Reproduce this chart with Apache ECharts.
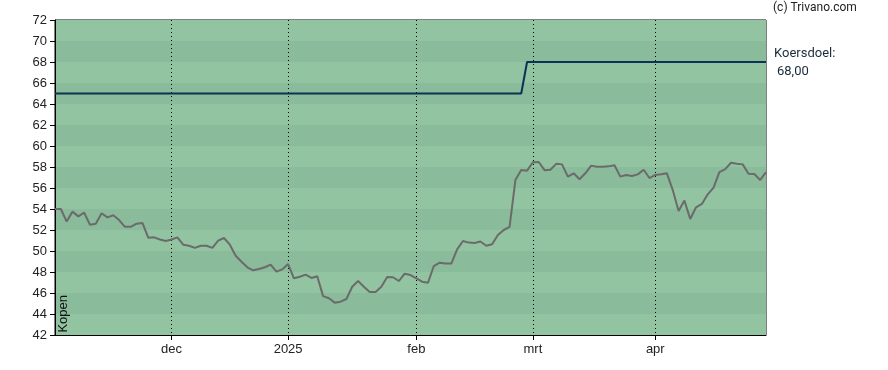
<!DOCTYPE html>
<html>
<head>
<meta charset="utf-8">
<script src="https://cdn.jsdelivr.net/npm/echarts@6/dist/echarts.min.js"></script>
<style>
html,body{margin:0;padding:0;background:#fff;}
#c{width:888px;height:370px;}
</style>
</head>
<body>
<div id="c"></div>
<script>
var dates = [
"2024-11-04","2024-11-05","2024-11-06","2024-11-07","2024-11-08",
"2024-11-11","2024-11-12","2024-11-13","2024-11-14","2024-11-15",
"2024-11-18","2024-11-19","2024-11-20","2024-11-21","2024-11-22",
"2024-11-25","2024-11-26","2024-11-27","2024-11-28","2024-11-29",
"2024-12-02","2024-12-03","2024-12-04","2024-12-05","2024-12-06",
"2024-12-09","2024-12-10","2024-12-11","2024-12-12","2024-12-13",
"2024-12-16","2024-12-17","2024-12-18","2024-12-19","2024-12-20",
"2024-12-23","2024-12-24","2024-12-27","2024-12-30","2024-12-31",
"2025-01-02","2025-01-03",
"2025-01-06","2025-01-07","2025-01-08","2025-01-09","2025-01-10",
"2025-01-13","2025-01-14","2025-01-15","2025-01-16","2025-01-17",
"2025-01-20","2025-01-21","2025-01-22","2025-01-23","2025-01-24",
"2025-01-27","2025-01-28","2025-01-29","2025-01-30","2025-01-31",
"2025-02-03","2025-02-04","2025-02-05","2025-02-06","2025-02-07",
"2025-02-10","2025-02-11","2025-02-12","2025-02-13","2025-02-14",
"2025-02-17","2025-02-18","2025-02-19","2025-02-20","2025-02-21",
"2025-02-24","2025-02-25","2025-02-26","2025-02-27","2025-02-28",
"2025-03-03","2025-03-04","2025-03-05","2025-03-06","2025-03-07",
"2025-03-10","2025-03-11","2025-03-12","2025-03-13","2025-03-14",
"2025-03-17","2025-03-18","2025-03-19","2025-03-20","2025-03-21",
"2025-03-24","2025-03-25","2025-03-26","2025-03-27","2025-03-28",
"2025-03-31",
"2025-04-01","2025-04-02","2025-04-03","2025-04-04",
"2025-04-07","2025-04-08","2025-04-09","2025-04-10","2025-04-11",
"2025-04-14","2025-04-15","2025-04-16","2025-04-17",
"2025-04-22","2025-04-23","2025-04-24","2025-04-25",
"2025-04-28","2025-04-29","2025-04-30"
];

var prices = [
54.0,54.0,52.8,53.75,53.3,53.65,52.5,52.6,53.6,53.2,
53.4,52.95,52.3,52.3,52.6,52.67,51.27,51.3,51.1,50.95,
51.1,51.3,50.6,50.5,50.3,50.5,50.5,50.3,50.98,51.24,
50.6,49.55,48.98,48.45,48.16,48.28,48.45,48.7,48.03,48.25,
48.76,47.4,47.55,47.75,47.43,47.6,45.7,45.5,45.08,45.17,
45.43,46.6,47.14,46.6,46.1,46.1,46.6,47.52,47.5,47.14,
47.84,47.71,47.4,47.08,46.98,48.57,48.89,48.8,48.8,50.16,
50.95,50.8,50.76,50.9,50.5,50.64,51.52,52.0,52.3,56.76,
57.71,57.65,58.45,58.48,57.7,57.74,58.3,58.25,57.08,57.4,
56.83,57.4,58.13,58.03,58.03,58.06,58.16,57.08,57.24,57.14,
57.3,57.74,56.95,57.24,57.3,57.4,55.8,53.8,54.8,53.05,
54.16,54.48,55.4,56.03,57.52,57.8,58.4,58.3,58.25,57.36,
57.33,56.76,57.52
];

var target = [
["2024-11-04",65],["2025-02-27",65],["2025-02-28",68],["2025-04-30",68]
];

var monthTicks = {"2024-12-02":"dec","2025-01-02":"2025","2025-02-03":"feb","2025-03-03":"mrt","2025-04-01":"apr"};
var yMin = 42, yMax = 72, yStep = 2;
var targetLabel = ["Koersdoel:", "68,00"];
var credit = "(c) Trivano.com";
var signal = "Kopen";

function isTick(idx, val){ return monthTicks.hasOwnProperty(val); }

var chart = echarts.init(document.getElementById('c'), null, {renderer:'canvas'});
chart.setOption({
  animation:false,
  backgroundColor:'#ffffff',
  grid:{left:55,right:122,top:20,bottom:35,show:true,borderColor:'#000',borderWidth:1,backgroundColor:'transparent'},
  xAxis:{
    type:'category',
    data:dates,
    boundaryGap:false,
    axisLine:{show:true,lineStyle:{color:'#000',width:1}},
    axisTick:{show:true,interval:isTick,length:5,lineStyle:{color:'#000'}},
    axisLabel:{interval:isTick,formatter:function(v){return monthTicks[v]||'';},color:'#222',fontFamily:'Liberation Sans',fontSize:13,margin:8},
    splitLine:{show:true,interval:isTick,lineStyle:{color:'#000',type:[1,3],width:1}}
  },
  yAxis:{
    type:'value',
    min:yMin,max:yMax,interval:yStep,
    axisLine:{show:true,lineStyle:{color:'#000',width:1}},
    axisTick:{show:true,length:5,lineStyle:{color:'#000'}},
    axisLabel:{color:'#222',fontFamily:'Liberation Sans',fontSize:13,margin:8},
    splitLine:{show:false},
    splitArea:{show:true,areaStyle:{color:['#92c4a2','#8abb9b']}}
  },
  series:[
    {type:'line',data:target,symbol:'none',lineStyle:{color:'#0a3355',width:2},z:3},
    {type:'line',data:prices,symbol:'none',lineStyle:{color:'#6b6b6b',width:2},z:4}
  ],
  graphic:[
    {type:'text',left:773,top:2,style:{text:credit,fontFamily:'Roboto',fontSize:12,fill:'#222'}},
    {type:'text',left:774,top:47,style:{text:targetLabel[0],fontFamily:'Roboto',fontSize:13,fill:'#1a2b3c'}},
    {type:'text',left:777,top:65,style:{text:targetLabel[1],fontFamily:'Roboto',fontSize:13,fill:'#1a2b3c'}},
    {type:'text',left:57,top:295,rotation:Math.PI/2,z:100,style:{text:signal,fontFamily:'Liberation Sans',fontSize:13,fill:'#111'}}
  ]
});
</script>
</body>
</html>
